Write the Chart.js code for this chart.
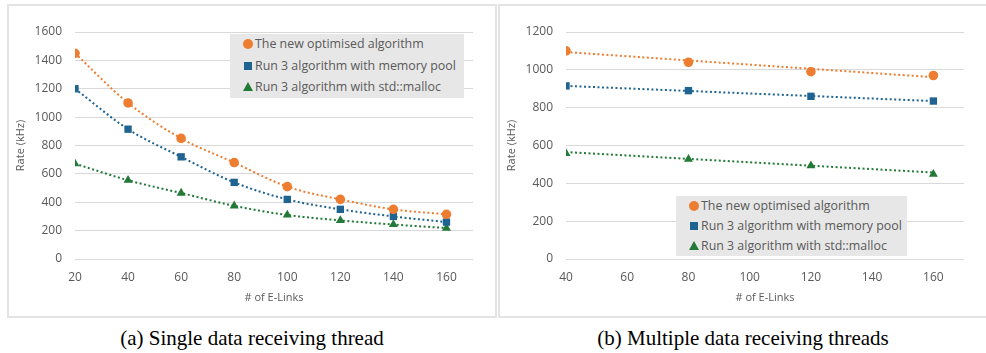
<!DOCTYPE html>
<html>
<head>
<meta charset="utf-8">
<script src="https://cdn.jsdelivr.net/npm/chart.js@4.4.1/dist/chart.umd.min.js"></script>
<style>
  body { margin: 0; background: #fff; width: 986px; height: 353px; overflow: hidden; position: relative; }
  .panel { position: absolute; top: 4px; width: 490px; height: 314px; box-sizing: border-box; border: 2px solid #e3e3e3; background: #fff; }
  .panel canvas { position: absolute; left: 0; top: 0; }
  .legend { position: absolute; background: #e7e7e7; font-family: "Open Sans", sans-serif; font-size: 12.4px; color: #595959; box-sizing: border-box; }
  .legend .row { position: absolute; left: 0; white-space: nowrap; line-height: 14px; }
  .legend .mk { position: absolute; }
  .legend .txt { position: absolute; }
  .caption { position: absolute; top: 326px; font-family: "Liberation Serif", "Times New Roman", serif; font-size: 21px; color: #000; text-align: center; width: 490px; }
</style>
</head>
<body>
<div class="panel" style="left:7px"><canvas id="chartA" width="486" height="310"></canvas>
  <div class="legend" id="legendA" style="left:221px;top:28px;width:234px;height:64px"></div></div>
<div class="panel" style="left:498px"><canvas id="chartB" width="486" height="310"></canvas>
  <div class="legend" id="legendB" style="left:176px;top:190px;width:231px;height:60px"></div></div>
<div class="caption" style="left:7px">(a) Single data receiving thread</div>
<div class="caption" style="left:498px">(b) Multiple data receiving threads</div>
<script>
const seriesNames = ['The new optimised algorithm', 'Run 3 algorithm with memory pool', 'Run 3 algorithm with std::malloc'];
const seriesColors = ['#ed7d31', '#1f6391', '#237a38'];
const seriesMarkers = ['circle', 'rect', 'triangle'];

// (a) single thread
const linksA = [20, 40, 60, 80, 100, 120, 140, 160];
const newA = [1450, 1100, 850, 680, 510, 420, 350, 315];
const poolA = [1200, 915, 720, 540, 420, 350, 300, 260];
const mallocA = [672, 555, 465, 375, 310, 272, 243, 218];

// (b) multiple threads
const linksB = [40, 80, 120, 160];
const newB = [1100, 1040, 990, 970];
const poolB = [915, 890, 860, 835];
const mallocB = [558, 528, 493, 448];
// linear trendlines, read at both ends
const trendLinksB = [40, 160];
const newTrendB = [1094, 961];
const poolTrendB = [915, 835];
const mallocTrendB = [565, 457];

const textColor = '#595959';
const gridColor = '#d9d9d9';
const font = { family: '"Open Sans", sans-serif', size: 12 };
const titleFont = { family: '"Open Sans", sans-serif', size: 11 };

const pts = (xs, ys) => xs.map((x, i) => ({ x: x, y: ys[i] }));

function markerSet(i, xs, ys, withLine) {
  return {
    label: seriesNames[i],
    data: pts(xs, ys),
    borderColor: seriesColors[i],
    backgroundColor: seriesColors[i],
    pointStyle: seriesMarkers[i],
    pointRadius: i === 0 ? 4.8 : 5.2,
    pointBorderWidth: 0,
    showLine: withLine,
    borderWidth: 2,
    borderDash: [2, 2.5],
    cubicInterpolationMode: 'monotone'
  };
}

function trendSet(i, xs, ys) {
  return {
    label: seriesNames[i] + ' (trend)',
    data: pts(xs, ys),
    borderColor: seriesColors[i],
    borderWidth: 2,
    borderDash: [2, 2.5],
    pointRadius: 0,
    showLine: true,
    order: 5
  };
}

function makeOptions(xMin, yMax) {
  return {
    responsive: false,
    animation: false,
    layout: { padding: { top: 26, right: 22, left: 0, bottom: 0 } },
    plugins: { legend: { display: false }, tooltip: { enabled: false } },
    scales: {
      x: {
        type: 'linear',
        min: xMin,
        max: 170,
        grid: { display: false },
        border: { display: false },
        ticks: { stepSize: 20, includeBounds: false, color: textColor, font: font, padding: 3, maxRotation: 0,
                 callback: v => String(v) },
        title: { display: true, text: '# of E-Links', color: textColor, font: titleFont, padding: { bottom: 12 } },
        afterFit: s => { s.height = 57; }
      },
      y: {
        min: 0,
        max: yMax,
        grid: { color: gridColor, drawTicks: false, lineWidth: 1 },
        border: { display: false },
        ticks: { stepSize: 200, color: textColor, font: font, padding: 13, callback: v => String(v) },
        title: { display: true, text: 'Rate (kHz)', color: textColor, font: titleFont, padding: { top: 5 } },
        afterFit: s => { s.width = 66; }
      }
    }
  };
}

new Chart(document.getElementById('chartA'), {
  type: 'scatter',
  data: {
    datasets: [
      markerSet(0, linksA, newA, true),
      markerSet(1, linksA, poolA, true),
      markerSet(2, linksA, mallocA, true)
    ]
  },
  options: makeOptions(20, 1600)
});

new Chart(document.getElementById('chartB'), {
  type: 'scatter',
  data: {
    datasets: [
      markerSet(0, linksB, newB, false),
      markerSet(1, linksB, poolB, false),
      markerSet(2, linksB, mallocB, false),
      trendSet(0, trendLinksB, newTrendB),
      trendSet(1, trendLinksB, poolTrendB),
      trendSet(2, trendLinksB, mallocTrendB)
    ]
  },
  options: makeOptions(40, 1200)
});

function buildLegend(id, rowTop, rowGap) {
  const box = document.getElementById(id);
  seriesNames.forEach((name, i) => {
    const row = document.createElement('div');
    row.className = 'row';
    row.style.top = (rowTop + i * rowGap - 7) + 'px';
    const mk = document.createElement('span');
    mk.className = 'mk';
    const c = seriesColors[i];
    if (seriesMarkers[i] === 'circle') {
      mk.style.cssText = `left:13px;top:2px;width:10px;height:10px;border-radius:50%;background:${c}`;
    } else if (seriesMarkers[i] === 'rect') {
      mk.style.cssText = `left:14px;top:3px;width:8px;height:8px;background:${c}`;
    } else {
      mk.style.cssText = `left:13px;top:2px;width:0;height:0;border-left:5px solid transparent;border-right:5px solid transparent;border-bottom:9px solid ${c}`;
    }
    const t = document.createElement('span');
    t.className = 'txt';
    t.style.left = '25px';
    t.textContent = name;
    row.appendChild(mk);
    row.appendChild(t);
    box.appendChild(row);
  });
}
buildLegend('legendA', 10, 21.5);
buildLegend('legendB', 10, 20);
</script>
</body>
</html>
